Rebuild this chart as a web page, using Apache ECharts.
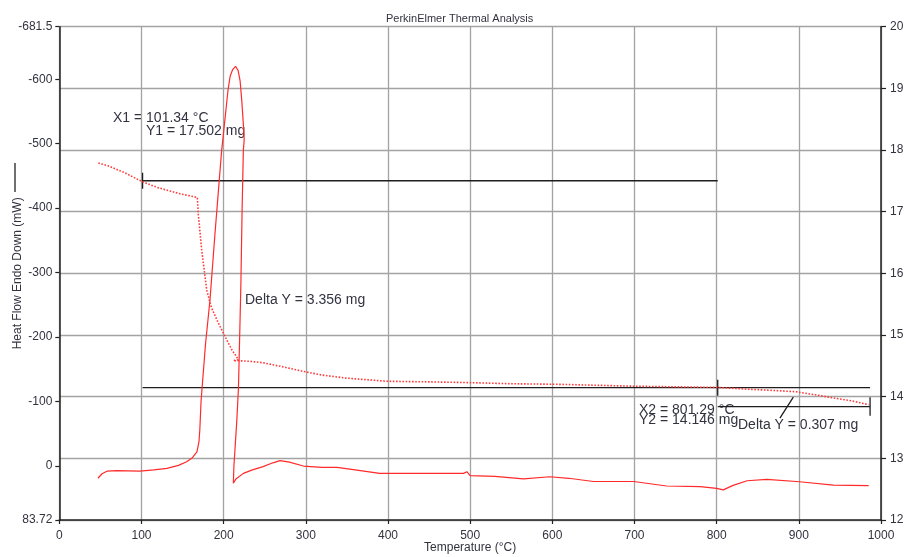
<!DOCTYPE html>
<html>
<head>
<meta charset="utf-8">
<script src="https://cdn.jsdelivr.net/npm/echarts@6/dist/echarts.min.js"></script>
<style>
html,body{margin:0;padding:0;background:#fff;}
#chart{width:906px;height:557px;}
</style>
</head>
<body>
<div id="chart"></div>
<script>
// ---- Data ----
// Heat flow (mW) vs temperature (°C) — left axis (endo down)
const heatFlowTemp = [47, 52, 58, 70, 98, 115, 131, 145, 155, 162, 167.5, 170, 171, 172.5, 174, 178, 183.4, 189.5, 197.6, 199, 205.3, 208, 211, 214.5, 217.5, 220, 222, 224, 225, 224, 222.5, 221, 219.5, 218, 216, 214, 212.5, 211.8, 215, 224, 235, 248, 260, 268.6, 280, 297, 320, 338, 360, 390, 450, 492, 496, 500, 530, 565, 597, 620, 650, 699, 739, 780, 800, 808, 820, 837, 861, 901, 942, 985];
const heatFlowMW = [19, 12, 8, 7, 7.8, 6, 3.6, -1, -6.7, -13, -22, -38, -56, -100, -125, -190, -258, -361, -490, -506, -583, -605, -615, -620, -614, -598, -568, -530, -506, -490, -400, -283, -200, -120, -70, -30, 0, 26.8, 20, 11.4, 6, 1, -5, -8.3, -6, 0, 2, 2, 6, 11.4, 11.5, 11.4, 8.8, 15, 16, 20, 16.6, 19, 24, 24, 31, 32, 34.6, 37, 30, 22.8, 20.6, 24.4, 29.5, 30.5];
// Sample weight (mg) vs temperature (°C) — right axis
const weightTemp = [47.5, 60, 80, 100.3, 120, 147, 168, 169, 173.3, 179.4, 185, 192, 199.6, 210, 218, 211.8, 224, 235, 248, 270, 297, 320, 350, 398, 450, 492, 550, 609, 698, 800, 840, 870, 897, 920, 942, 965, 985];
const weightMG = [17.79, 17.74, 17.63, 17.49, 17.39, 17.29, 17.23, 16.98, 16.38, 15.73, 15.45, 15.24, 15.03, 14.76, 14.6, 14.585, 14.58, 14.57, 14.55, 14.49, 14.41, 14.35, 14.30, 14.25, 14.24, 14.23, 14.21, 14.20, 14.17, 14.15, 14.12, 14.10, 14.08, 14.03, 13.98, 13.93, 13.87];
// Cursor annotations
const cursorX = [101.34, 801.29];
const cursorY = [17.502, 14.146];
const deltaY = [3.356, 0.307];
const cursorEndX = 986.7;
const leaderX = [877, 893.3];
const leaderY = [13.653, 13.994];
// Tick labels
const xTicks = [0, 100, 200, 300, 400, 500, 600, 700, 800, 900, 1000];
const leftTicks = [-681.5, -600, -500, -400, -300, -200, -100, 0, 83.72];
const rightTicks = [12, 13, 14, 15, 16, 17, 18, 19, 20];

// ---- Build ----
const zip = (a, b) => a.map((v, i) => [v, b[i]]);
const FONT = "'Liberation Sans', Arial, sans-serif";
const txt = '#333340';
const axisDark = '#222';
const gridGray = '#a3a3a3';
const tickH = 0.13;

const y3 = +(cursorY[1] - deltaY[1]).toFixed(3);
const annotSegments = [
  [[cursorX[0], cursorY[0]], [cursorX[1], cursorY[0]]],
  [[cursorX[0], cursorY[0] - tickH], [cursorX[0], cursorY[0] + tickH]],
  [[cursorX[0], cursorY[1]], [cursorEndX, cursorY[1]]],
  [[cursorX[1], cursorY[1] - tickH], [cursorX[1], cursorY[1] + tickH]],
  [[cursorX[1], y3], [cursorEndX, y3]],
  [[cursorEndX, y3 - 0.15], [cursorEndX, y3 + 0.15]],
  [[leaderX[0], leaderY[0]], [leaderX[1], leaderY[1]]]
];

const chart = echarts.init(document.getElementById('chart'), null, {renderer: 'canvas'});

const series = [
  {
    name: 'Heat Flow', type: 'line', xAxisIndex: 0, yAxisIndex: 0,
    data: zip(heatFlowTemp, heatFlowMW), showSymbol: false, smooth: false,
    lineStyle: {color: '#ff2a2a', width: 1.2}, z: 3
  },
  {
    name: 'Weight', type: 'line', xAxisIndex: 0, yAxisIndex: 1,
    data: zip(weightTemp, weightMG), showSymbol: false, smooth: false,
    lineStyle: {color: '#ff3c3c', width: 1.6, type: 'dotted'}, z: 3
  }
];
annotSegments.forEach(seg => series.push({
  type: 'line', xAxisIndex: 0, yAxisIndex: 1, data: seg, showSymbol: false,
  lineStyle: {color: '#1e1e1e', width: 1.3}, z: 2, silent: true
}));

const annoText = (t, x, y) => ({
  type: 'text', left: x, top: y - 7,
  style: {text: t, font: '14px ' + FONT, fill: txt}
});

chart.setOption({
  animation: false,
  backgroundColor: '#fff',
  title: {
    text: 'PerkinElmer Thermal Analysis', left: 381, top: 8,
    textStyle: {fontFamily: 'Liberation Sans', fontSize: 11, fontWeight: 'normal', color: txt}
  },
  grid: {left: 59.3, right: 25, top: 26.7, bottom: 37, containLabel: false, outerBoundsMode: 'none'},
  xAxis: {
    type: 'value', min: 0, max: 1000, interval: 100,
    name: 'Temperature (°C)', nameLocation: 'middle', nameGap: 22, nameMoveOverlap: false,
    nameTextStyle: {fontFamily: FONT, fontSize: 12, color: txt},
    axisLine: {show: true, onZero: false, lineStyle: {color: axisDark, width: 1.5}},
    axisTick: {show: true, length: 4, lineStyle: {color: axisDark, width: 1.2}},
    axisLabel: {fontFamily: FONT, fontSize: 12, color: txt, margin: 10,
      customValues: xTicks, formatter: v => String(v)},
    splitLine: {show: true, lineStyle: {color: gridGray, width: 1.3}}
  },
  yAxis: [
    {
      type: 'value', position: 'left', inverse: true, min: leftTicks[0], max: leftTicks[leftTicks.length - 1],
      name: 'Heat Flow Endo Down (mW)', nameLocation: 'middle', nameGap: 36, nameMoveOverlap: false,
      nameTextStyle: {fontFamily: FONT, fontSize: 12, color: txt},
      axisLine: {show: true, onZero: false, lineStyle: {color: axisDark, width: 1.5}},
      axisTick: {show: true, length: 4, customValues: leftTicks, lineStyle: {color: axisDark, width: 1.2}},
      axisLabel: {fontFamily: FONT, fontSize: 12, color: txt, margin: 7, customValues: leftTicks,
        formatter: v => String(v)},
      splitLine: {show: false}
    },
    {
      type: 'value', position: 'right', min: 12, max: 20, interval: 1,
      axisLine: {show: true, onZero: false, lineStyle: {color: axisDark, width: 1.5}},
      axisTick: {show: true, length: 5, lineStyle: {color: axisDark, width: 1.2}},
      axisLabel: {fontFamily: FONT, fontSize: 12, color: txt, margin: 9, customValues: rightTicks},
      splitLine: {show: true, lineStyle: {color: gridGray, width: 1.3}}
    }
  ],
  graphic: [
    {type: 'line', shape: {x1: 15, y1: 163, x2: 15, y2: 192}, style: {stroke: '#222', lineWidth: 1.3}},
    annoText('X1 = ' + cursorX[0] + ' °C', 113, 118),
    annoText('Y1 = ' + cursorY[0] + ' mg', 146, 131),
    annoText('Delta Y = ' + deltaY[0] + ' mg', 245, 300),
    annoText('X2 = ' + cursorX[1] + ' °C', 639, 410),
    annoText('Y2 = ' + cursorY[1] + ' mg', 639, 420),
    annoText('Delta Y = ' + deltaY[1] + ' mg', 738, 425)
  ],
  series: series
});
</script>
</body>
</html>
